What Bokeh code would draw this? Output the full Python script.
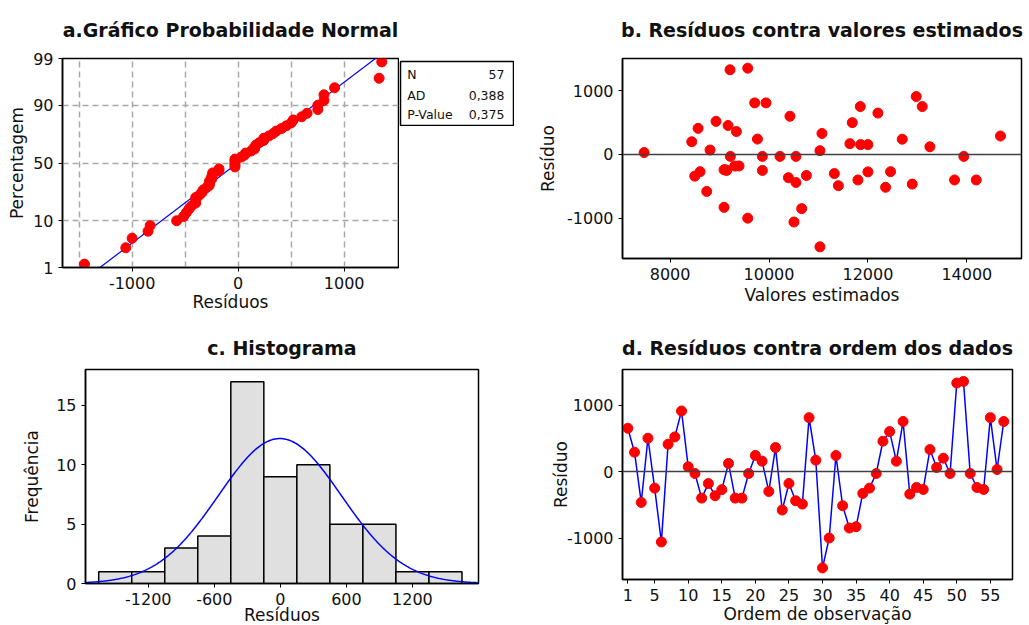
from statistics import NormalDist

import numpy as np
from bokeh.core.properties import value
from bokeh.embed import file_html
from bokeh.layouts import column, row
from bokeh.models import FixedTicker, Span, Spacer
from bokeh.plotting import figure
from bokeh.resources import INLINE

# ---- data ---------------------------------------------------------------
# residuals in observation order (1..57)
residuals = [650, 290, -465, 500, -250, -1060, 410, 520, 910, 70,
             -30, -400, -182, -364, -273, 121, -400, -400, -30, 242,
             155, -300, 360, -580, -180, -440, -490, 810, 170, -1450,
             -1000, 240, -515, -850, -830, -330, -250, -30, 455, 600,
             155, 752, -340, -240, -270, 330, 60, 200, -30, 1330,
             1355, -30, -240, -270, 810, 30, 752]
# fitted values for the same observations
fitted = [12202, 14680, 12896, 11684, 9145, 10505, 8566, 8929, 12977, 8808,
          9219, 13751, 9307, 10392, 12000, 13253, 14190, 11798, 9866, 9766,
          11852, 11321, 9341, 8741, 9394, 10545, 11402, 9711, 11636, 11030,
          9570, 12694, 12357, 10661, 9091, 10756, 9866, 10222, 9172, 10424,
          12000, 11846, 8499, 9091, 12458, 11071, 11030, 8438, 10545, 9212,
          9570, 13939, 9120, 8606, 9939, 7475, 13098]
order = list(range(1, len(residuals) + 1))

hist_edges = [-1650, -1350, -1050, -750, -450, -150, 150, 450, 750, 1050, 1350, 1650]
prob_ticks = [1, 10, 50, 90, 99]
stat_names = ["N", "AD", "P-Value"]
stat_values = ["57", "0,388", "0,375"]

titles = ["a.Gráfico Probabilidade Normal",
          "b. Resíduos contra valores estimados",
          "c. Histograma",
          "d. Resíduos contra ordem dos dados"]

# ---- styling ------------------------------------------------------------
FONT = "DejaVu Sans"
TXT = "#111111"
RED = "#ff0000"
BLUE = "#0000ff"

res = np.array(residuals, dtype=float)
n = len(res)
mu = res.mean()
sd = res.std(ddof=1)
nd = NormalDist()


def plain_labels(ticks):
    # tick labels written with an ASCII hyphen for negatives
    return {t: str(t) for t in ticks}


def make_fig(fw, fh, bl, bt, br, bb, xr, yr, title, standoff):
    p = figure(frame_width=fw, frame_height=fh,
               min_border_left=bl, min_border_top=bt,
               min_border_right=br, min_border_bottom=bb,
               x_range=xr, y_range=yr,
               output_backend="svg", toolbar_location=None)
    p.title.text = title
    p.title.align = "center"
    p.title.vertical_align = "top"
    p.title.text_font = FONT
    p.title.text_font_size = "19px"
    p.title.text_font_style = "bold"
    p.title.text_color = TXT
    p.title.standoff = standoff
    p.outline_line_color = "black"
    p.outline_line_width = 1.5
    p.outline_line_alpha = 1
    for ax in (p.xaxis[0], p.yaxis[0]):
        ax.axis_line_color = "black"
        ax.axis_line_width = 1.5
        ax.major_tick_in = 0
        ax.major_tick_out = 4
        ax.major_tick_line_color = "black"
        ax.minor_tick_line_color = None
        ax.major_label_text_font = FONT
        ax.major_label_text_font_size = "16px"
        ax.major_label_text_color = TXT
        ax.axis_label_text_font = FONT
        ax.axis_label_text_font_size = "17px"
        ax.axis_label_text_font_style = "normal"
        ax.axis_label_text_color = TXT
        ax.major_label_standoff = 5
    p.xgrid.grid_line_color = None
    p.ygrid.grid_line_color = None
    p.background_fill_color = "white"
    p.border_fill_color = "white"
    return p


def set_ticks(axis, ticks):
    axis.ticker = FixedTicker(ticks=ticks)
    axis.major_label_overrides = plain_labels(ticks)


# ---- a. normal probability plot ----------------------------------------
z_lo = nd.inv_cdf(0.01) - 1e-9
z_hi = nd.inv_cdf(0.99) + 1e-9
pa = make_fig(336, 209, 62, 58, 1, 52, (-1657, 1513), (z_lo, z_hi), titles[0], 32)
z_ticks = [nd.inv_cdf(t / 100) for t in prob_ticks]
pa.yaxis.ticker = FixedTicker(ticks=z_ticks)
pa.yaxis.major_label_overrides = {z: str(t) for z, t in zip(z_ticks, prob_ticks)}
set_ticks(pa.xaxis[0], [-1000, 0, 1000])
pa.xaxis.axis_label = "Resíduos"
pa.yaxis.axis_label = "Percentagem"
pa.xaxis.axis_label_standoff = 0
pa.yaxis.axis_label_standoff = 3
pa.xgrid.ticker = FixedTicker(ticks=[-1500, -1000, -500, 0, 500, 1000])
pa.ygrid.ticker = FixedTicker(ticks=z_ticks[1:4])
for g in (pa.xgrid[0], pa.ygrid[0]):
    g.grid_line_color = "#a8a8a8"
    g.grid_line_dash = "6 4"
    g.grid_line_width = 1.5

sorted_res = np.sort(res)
ranks = np.arange(1, n + 1)
z_pts = [nd.inv_cdf((i - 0.3) / (n + 0.4)) for i in ranks]
z_line = np.array([-3.0, 3.0])
pa.line(mu + sd * z_line, z_line, line_color=BLUE, line_width=1.2)
pa.scatter(sorted_res, z_pts, size=10, fill_color=RED, line_color=RED)

# statistics box beside panel a
pbox = figure(frame_width=113, frame_height=64, min_border=1,
              x_range=(0, 1), y_range=(0, 1),
              x_axis_location=None, y_axis_location=None,
              output_backend="svg", toolbar_location=None)
pbox.xgrid.grid_line_color = None
pbox.ygrid.grid_line_color = None
pbox.outline_line_color = "black"
pbox.outline_line_width = 1.5
pbox.outline_line_alpha = 1
rows_y = [0.79, 0.47, 0.17]
pbox.text(x=[0.06] * 3, y=rows_y, text=stat_names, text_font=value(FONT),
          text_font_size="12.5px", text_baseline="middle", text_align="left",
          text_color=TXT)
pbox.text(x=[0.92] * 3, y=rows_y, text=stat_values, text_font=value(FONT),
          text_font_size="12.5px", text_baseline="middle", text_align="right",
          text_color=TXT)

# ---- b. residuals vs fitted --------------------------------------------
pb = make_fig(399, 200, 108, 58, 8, 60, (7038, 15105), (-1633, 1507), titles[1], 32)
set_ticks(pb.xaxis[0], [8000, 10000, 12000, 14000])
set_ticks(pb.yaxis[0], [-1000, 0, 1000])
pb.xaxis.axis_label = "Valores estimados"
pb.yaxis.axis_label = "Resíduo"
pb.xaxis.axis_label_standoff = 2
pb.yaxis.axis_label_standoff = 6
pb.add_layout(Span(location=0, dimension="width", line_color="#404040", line_width=1.5))
pb.scatter(fitted, residuals, size=10, fill_color=RED, line_color=RED)

# ---- c. histogram -------------------------------------------------------
counts, edges = np.histogram(res, bins=hist_edges)
pc = make_fig(393, 214, 85, 50, 37, 45, (-1770, 1800), (0, 18.03), titles[2], 17)
set_ticks(pc.xaxis[0], [-1200, -600, 0, 600, 1200])
set_ticks(pc.yaxis[0], [0, 5, 10, 15])
pc.xaxis.axis_label = "Resíduos"
pc.yaxis.axis_label = "Frequência"
pc.xaxis.axis_label_standoff = -3
pc.yaxis.axis_label_standoff = 11
pc.quad(left=edges[:-1], right=edges[1:], top=counts, bottom=0,
        fill_color="#e0e0e0", line_color="black", line_width=1.5)
bw = hist_edges[1] - hist_edges[0]
xs = np.linspace(-1770, 1800, 400)
ys = n * bw * np.exp(-0.5 * ((xs - mu) / sd) ** 2) / (sd * np.sqrt(2 * np.pi))
pc.line(xs, ys, line_color=BLUE, line_width=1.5)

# ---- d. residuals vs order ---------------------------------------------
pd_ = make_fig(390, 210, 107, 50, 17, 47, (0.21, 58.3), (-1624, 1534), titles[3], 17)
set_ticks(pd_.xaxis[0], [1, 5, 10, 15, 20, 25, 30, 35, 40, 45, 50, 55])
set_ticks(pd_.yaxis[0], [-1000, 0, 1000])
pd_.xaxis.axis_label = "Ordem de observação"
pd_.yaxis.axis_label = "Resíduo"
pd_.xaxis.axis_label_standoff = 0
pd_.yaxis.axis_label_standoff = -7
pd_.add_layout(Span(location=0, dimension="width", line_color="#404040", line_width=1.5))
pd_.line(order, residuals, line_color=BLUE, line_width=1.5)
pd_.scatter(order, residuals, size=10, fill_color=RED, line_color=RED)

top = row(pa, column(Spacer(width=115, height=60), pbox), pb)
bottom = row(pc, pd_)
layout = column(top, bottom)

open("out.html", "w").write(file_html(layout, INLINE))
